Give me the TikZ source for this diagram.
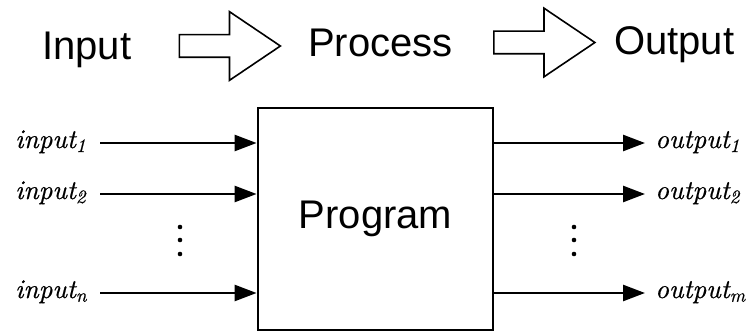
\documentclass[tikz,border=0pt]{standalone}
\usepackage{fontspec}
\newfontfamily\helv{Liberation Sans}
\newfontfamily\lblfont{lmroman10-italic}[Extension=.otf, FakeBold=0.6]
\usetikzlibrary{arrows.meta,shapes.arrows,shadows,positioning}

\begin{document}
\begin{tikzpicture}[x=1pt, y=1pt,
	>={Triangle[length=22pt, width=16pt]},
	big/.style={font=\helv\fontsize{40}{48}\selectfont, inner sep=0pt, anchor=base west},
	lbl/.style={font=\lblfont\fontsize{27}{32}\selectfont, inner sep=0pt, anchor=base west},
	hollow/.style={single arrow, draw, line width=1.6pt, inner sep=10.5pt,
	      minimum height=101pt, single arrow head extend=23pt,
	      single arrow tip angle=68, outer sep=0pt},
	prog/.style={rectangle, draw, line width=2.8pt, fill=white,
	      minimum width=235pt, minimum height=222pt,
	      font=\helv\fontsize{40}{48}\selectfont,
	      drop shadow={opacity=0.25, shadow xshift=1pt, shadow yshift=-1pt}},
	conn/.style={->, line width=2.6pt}]
	 \useasboundingbox (0,0) rectangle (752,332);

	 % top row
	 \node[big] (input) at (42,272) {Input};
	 \node[hollow] (arrA) at (221.5,286) {};
	 \node[big] (process) at (308,275) {Process};
	 \node[hollow] (arrB) at (536,289.5) {};
	 \node[big] (output) at (614,277) {Output};

	 % the program box
	 \node[prog] (program) at (375.5,113) {Program};

	 \node[coordinate] (in1) at (100,189) {};
	 \node[coordinate] (in2) at (100,138) {};
	 \node[coordinate] (inn) at (100,39) {};
	 \node[coordinate] (out1) at (645,189) {};
	 \node[coordinate] (out2) at (645,138) {};
	 \node[coordinate] (outm) at (645,39) {};

	 \node[lbl] (lin1) at (15,184) {input\textsubscript{1}};
	 \node[lbl] (lin2) at (15,133) {input\textsubscript{2}};
	 \node[lbl] (linn) at (15,34) {input\textsubscript{n}};
	 \node[lbl] (lout1) at (655,184) {output\textsubscript{1}};
	 \node[lbl] (lout2) at (655,133) {output\textsubscript{2}};
	 \node[lbl] (loutm) at (655,34) {output\textsubscript{m}};

	 \draw[conn] (in1) -- (in1 -| program.west);
	 \draw[conn] (in2) -- (in2 -| program.west);
	 \draw[conn] (inn) -- (inn -| program.west);
	 \draw[conn] (out1 -| program.east) -- (out1);
	 \draw[conn] (out2 -| program.east) -- (out2);
	 \draw[conn] (outm -| program.east) -- (outm);

	 % dots
	 \foreach \y in {105,92,78} {
	   \fill (180,\y) circle (2.3pt);
	   \fill (574,\y) circle (2.3pt);
	 }
\end{tikzpicture}
\end{document}
